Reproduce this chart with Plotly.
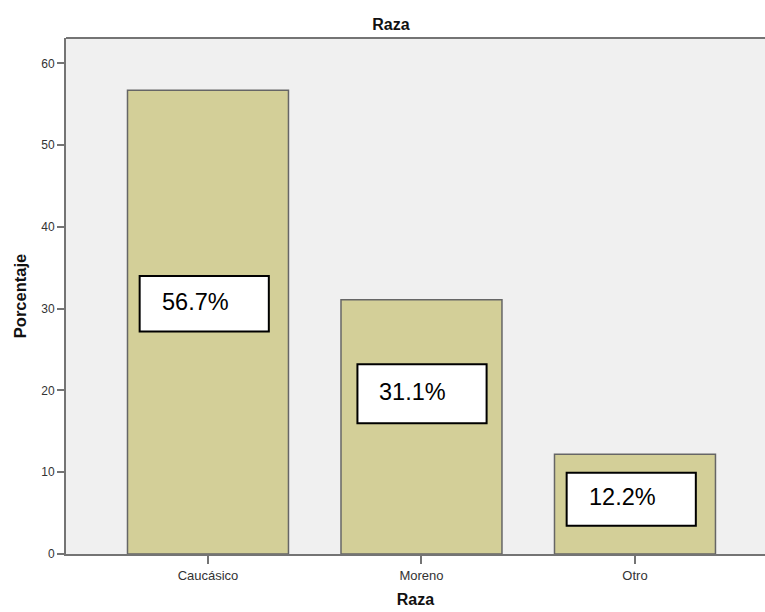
import plotly.graph_objects as go

# Data
categories = ["Caucásico", "Moreno", "Otro"]
percentages = [56.7, 31.1, 12.2]
y_ticks = [0, 10, 20, 30, 40, 50, 60]

chart_title = "Raza"
x_title = "Raza"
y_title = "Porcentaje"

# Styling
BAR_FILL = "#D3CF98"
BAR_EDGE = "#666666"
PLOT_BG = "#F0F0F0"
AXIS_COL = "#747474"
FONT = "Liberation Sans, Arial, sans-serif"

# Placement of the white label boxes over each bar (axis units)
box_centres = [30.6, 19.6, 6.7]
box_half_h = [3.4, 3.6, 3.25]
box_left_off = [0.32, 0.30, 0.32]
box_width = 0.605

fig = go.Figure()
fig.add_trace(go.Bar(
    x=list(range(len(categories))),
    y=percentages,
    width=0.754,
    marker=dict(color=BAR_FILL, line=dict(color=BAR_EDGE, width=1.5)),
    hoverinfo="skip",
))

for i, v in enumerate(percentages):
    yc, hh, lo = box_centres[i], box_half_h[i], box_left_off[i]
    fig.add_shape(
        type="rect", xref="x", yref="y",
        x0=i - lo, x1=i - lo + box_width,
        y0=yc - hh, y1=yc + hh,
        fillcolor="white", line=dict(color="black", width=2),
        layer="above",
    )
    fig.add_annotation(
        x=i - lo, y=yc, xref="x", yref="y",
        text=f"{v}%", showarrow=False,
        xanchor="left", yanchor="middle", xshift=20, yshift=2,
        font=dict(family=FONT, size=23.5, color="black"),
    )

# top border of the plot frame
fig.add_shape(type="line", xref="paper", yref="paper", x0=0, x1=1, y0=1, y1=1,
              line=dict(color=AXIS_COL, width=2))

fig.update_layout(
    width=765, height=612,
    margin=dict(l=66, r=0, t=38, b=58),
    paper_bgcolor="white",
    plot_bgcolor=PLOT_BG,
    showlegend=False,
    title=dict(text=chart_title, x=391 / 765, xanchor="center", y=1 - 24 / 612, yanchor="middle",
               font=dict(family=FONT, size=16, color="#111111", weight="bold")),
    xaxis=dict(
        range=[-0.665, 2.609],
        tickmode="array", tickvals=list(range(len(categories))), ticktext=categories,
        showgrid=False, zeroline=False,
        showline=True, linecolor=AXIS_COL, linewidth=2,
        ticks="outside", ticklen=8, tickcolor=AXIS_COL, tickwidth=1.5,
        tickfont=dict(family=FONT, size=13, color="#333333"),
        title=dict(text=x_title, standoff=12,
                   font=dict(family=FONT, size=16, color="#111111", weight="bold")),
    ),
    yaxis=dict(
        range=[0, 63.1],
        tickmode="array", tickvals=y_ticks,
        showgrid=False, zeroline=False,
        showline=True, linecolor=AXIS_COL, linewidth=2,
        ticks="outside", ticklen=7, tickcolor=AXIS_COL, tickwidth=1.5,
        tickfont=dict(family=FONT, size=12, color="#333333"),
        title=dict(text=y_title, standoff=10,
                   font=dict(family=FONT, size=16.5, color="#111111", weight="bold")),
    ),
)

fig.write_html("out.html")
